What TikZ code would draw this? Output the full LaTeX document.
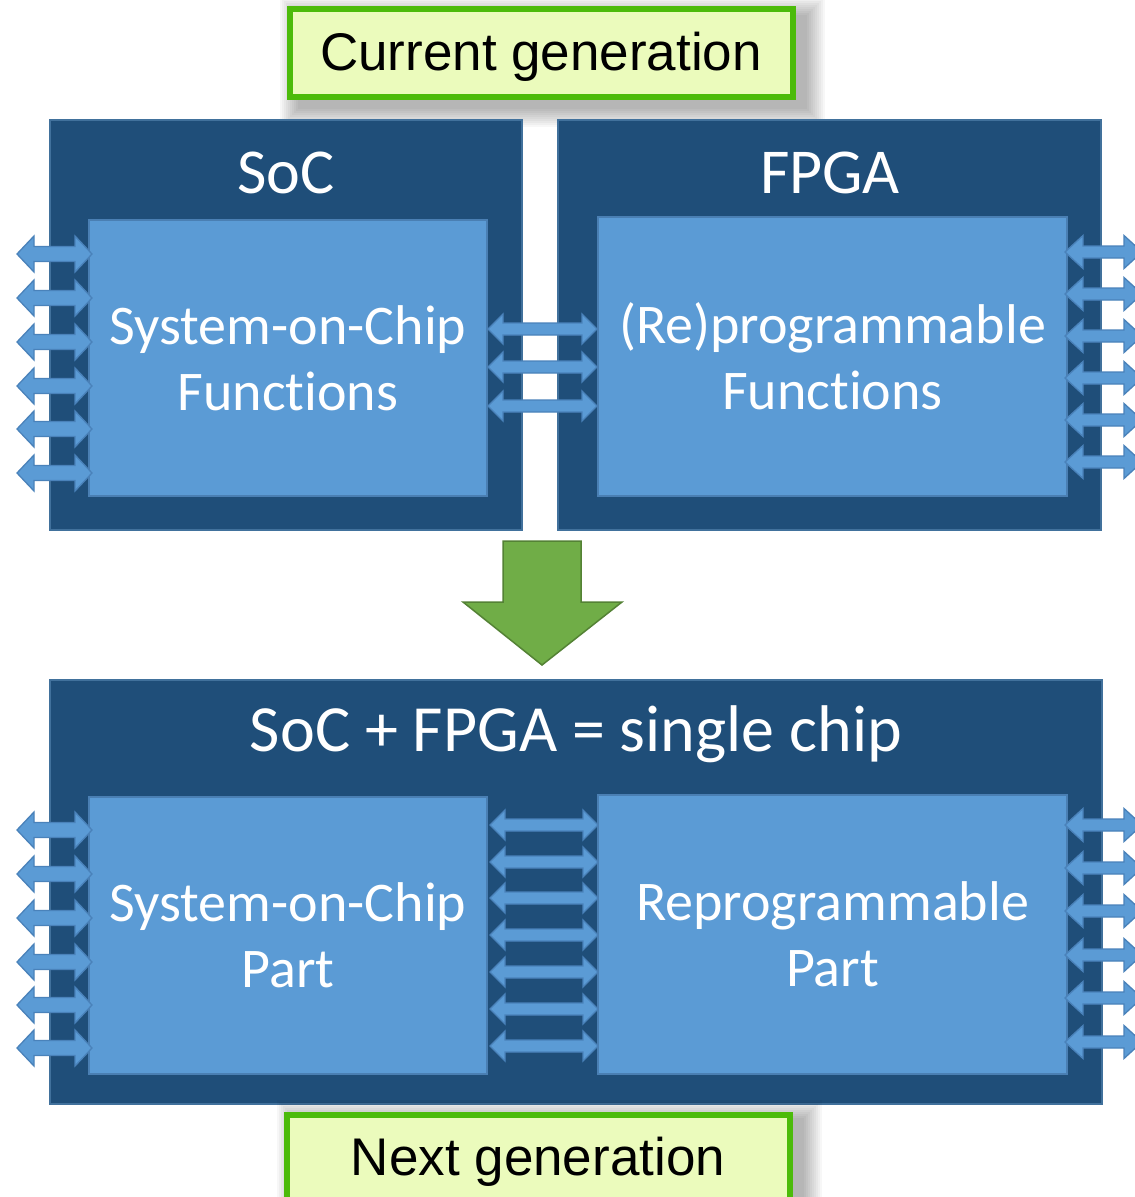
\documentclass[tikz,border=0pt]{standalone}
\usepackage{fontspec}
\setmainfont{Carlito}[Ligatures=CommonOff]
\newfontfamily\labelfont{Liberation Sans}
\definecolor{chipdark}{HTML}{1F4E79}
\definecolor{chipedge}{HTML}{41719C}
\definecolor{partfill}{HTML}{5B9BD5}
\definecolor{partedge}{HTML}{4A7FB3}
\definecolor{pinedge}{HTML}{4A82BA}
\definecolor{tagfill}{HTML}{EBFBBC}
\definecolor{tagedge}{HTML}{4CBB0A}
\definecolor{mergefill}{HTML}{70AD47}
\definecolor{mergeedge}{HTML}{548235}

% double-headed pin arrow: x-left, x-right, y, shaft half-height, head half-height, head length
\newcommand\biarrow[6]{%
  \filldraw[pin] (#1,#3) -- (#1+#6,#3-#5) -- (#1+#6,#3-#4) -- (#2-#6,#3-#4)
    -- (#2-#6,#3-#5) -- (#2,#3) -- (#2-#6,#3+#5) -- (#2-#6,#3+#4)
    -- (#1+#6,#3+#4) -- (#1+#6,#3+#5) -- cycle;}

% soft drop shadow behind a label box: x1, y1, x2, y2
\newcommand\softshadow[4]{%
  \foreach \r in {0,2,...,18}{%
    \fill[black,opacity=0.03] (#1+8-\r,#2+6-\r) rectangle (#3+14+\r,#4+12+\r);}}

\tikzset{
  chip/.style={draw=chipedge, line width=2pt, fill=chipdark, inner sep=0pt,
    outer sep=0pt, anchor=north west},
  part/.style={draw=partedge, line width=2pt, fill=partfill, inner sep=0pt,
    outer sep=0pt, anchor=north west, text=white, align=center,
    font=\fontsize{56}{66}\selectfont},
  chiptitle/.style={text=white, font=\fontsize{64}{70}\selectfont, inner sep=0pt},
  tag/.style={draw=tagedge, line width=6pt, fill=tagfill, inner sep=0pt,
    outer sep=0pt, anchor=north west},
  tagtext/.style={font=\labelfont\fontsize{53}{60}\selectfont, inner sep=0pt},
  pin/.style={fill=partfill, draw=pinedge, line width=1.3pt, line join=miter},
  merge/.style={fill=mergefill, draw=mergeedge, line width=1.5pt, line join=miter},
}

\begin{document}
\begin{tikzpicture}[x=1pt, y=-1pt]
\useasboundingbox (0,0) rectangle (1135,1197);
\clip (0,0) rectangle (1135,1197);
\fill[white] (0,0) rectangle (1135,1197);

% label of the upper half
\softshadow{290}{9}{793}{97}
\node[tag, minimum width=503pt, minimum height=88pt] (cur) at (290,9) {};
\node[tagtext] (curtext) at (541,57) {Current generation};

% separate SoC and FPGA chips
\node[chip, minimum width=472pt, minimum height=410pt] (soc) at (50,120) {};
\node[chip, minimum width=543pt, minimum height=410pt] (fpga) at (558,120) {};
\node[chiptitle] (soctitle) at (286,173) {SoC};
\node[chiptitle] (fpgatitle) at (830,173) {FPGA};
\node[part, minimum width=398pt, minimum height=276pt] (socin) at (89,220)
  {System-on-Chip\\Functions};
\node[part, minimum width=469pt, minimum height=279pt] (fpgain) at (598,217)
  {(Re)programmable\\Functions};

% pins of the separate chips
\foreach \y in {254,298,342,386,429,473} {\biarrow{17}{92}{\y}{7.5}{18}{17}}
\foreach \y in {329,367,406} {\biarrow{488}{597}{\y}{6}{15}{15}}
\foreach \y in {252,294,336,378,420,462} {\biarrow{1065}{1142}{\y}{6}{16.5}{18}}

% merge arrow
\filldraw[merge] (503,541) -- (581,541) -- (581,602) -- (622,602) -- (542,665)
  -- (463,602) -- (503,602) -- cycle;

% combined single chip
\node[chip, minimum width=1052pt, minimum height=424pt] (single) at (50,680) {};
\node[chiptitle, font=\fontsize{66}{72}\selectfont] (singletitle) at (576,734) {SoC + FPGA = single chip};
\node[part, minimum width=398pt, minimum height=277pt] (singlesoc) at (89,797)
  {System-on-Chip\\Part};
\node[part, minimum width=469pt, minimum height=279pt] (singlefpga) at (598,795)
  {Reprogrammable\\Part};

% pins of the combined chip
\foreach \y in {830,874,918,962,1005,1048} {\biarrow{17}{92}{\y}{7.5}{18}{17}}
\foreach \y in {825,862,898,935,972,1009,1046} {\biarrow{490}{598}{\y}{6}{15}{15}}
\foreach \y in {825,868,911,955,998,1042} {\biarrow{1065}{1142}{\y}{6}{16.5}{18}}

% label of the lower half
\softshadow{287}{1112}{790}{1210}
\node[tag, minimum width=503pt, minimum height=100pt] (next) at (287,1115) {};
\node[tagtext] (nexttext) at (538,1162) {Next generation};
\end{tikzpicture}
\end{document}
